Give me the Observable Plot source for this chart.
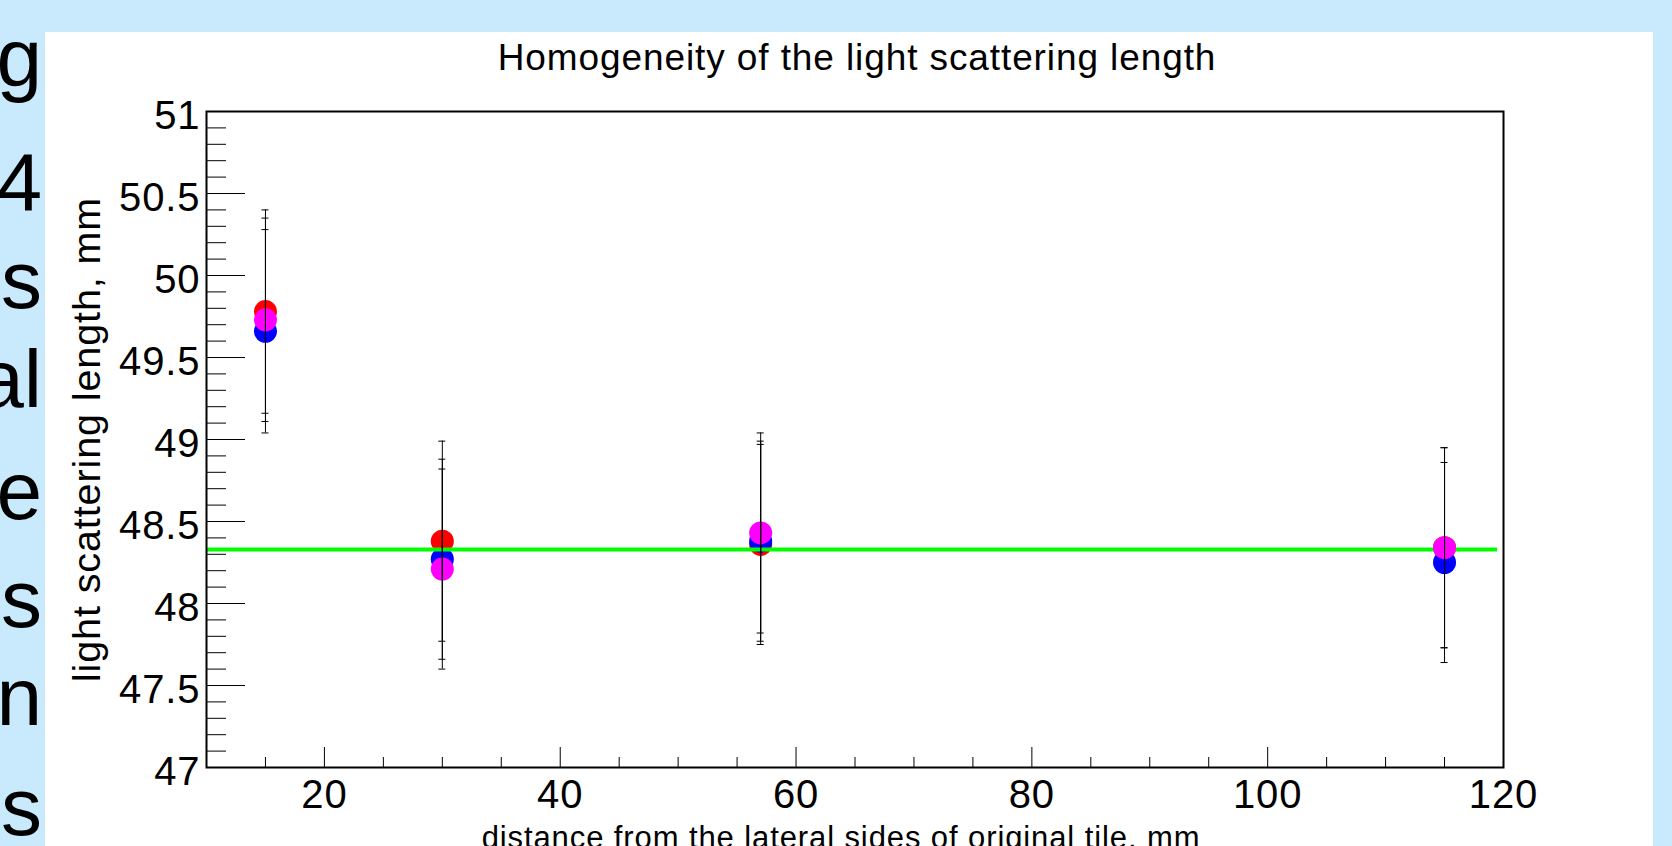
<!DOCTYPE html>
<html>
<head>
<meta charset="utf-8">
<script src="https://cdn.jsdelivr.net/npm/d3@7"></script>
<script src="https://cdn.jsdelivr.net/npm/@observablehq/plot@0.6"></script>
<style>
html, body { margin: 0; padding: 0; }
body { width: 1672px; height: 846px; overflow: hidden; background: #c9eafc; position: relative; font-family: "Liberation Sans", Arial, Helvetica, sans-serif; }
#panel { position: absolute; left: 45px; top: 32px; width: 1608px; height: 900px; background: #ffffff; }
#side { position: absolute; left: 0; top: 0; }
#chart { position: absolute; left: 0; top: 0; }
</style>
</head>
<body>
<div id="panel"></div>
<svg id="side" width="45" height="846"></svg>
<div id="chart"></div>
<script>
// ---- data ----
const titleText = "Homogeneity of the light scattering length";
const xLabelText = "distance from the lateral sides of original tile, mm";
const yLabelText = "light scattering length, mm";

const xPositions = [15, 30, 57, 115];
const redValues = [49.78, 48.38, 48.36, 48.34];
const redErrors = [0.62, 0.61, 0.61, 0.61];
const blueValues = [49.66, 48.27, 48.38, 48.25];
const blueErrors = [0.62, 0.61, 0.61, 0.61];
const magentaValues = [49.73, 48.21, 48.43, 48.34];
const magentaErrors = [0.62, 0.61, 0.61, 0.61];

const fitValue = [48.33];
const fitRange = [10, 119.5];

const xDomain = [10, 120];
const yDomain = [47, 51];
const xTicks = [20, 40, 60, 80, 100, 120];
const xMinorTicks = [15, 25, 30, 35, 45, 50, 55, 65, 70, 75, 85, 90, 95, 105, 110, 115];
const yTicks = [47, 47.5, 48, 48.5, 49, 49.5, 50, 50.5, 51];
const yMinorTicks = [47.1, 47.2, 47.3, 47.4, 47.6, 47.7, 47.8, 47.9,
  48.1, 48.2, 48.3, 48.4, 48.6, 48.7, 48.8, 48.9,
  49.1, 49.2, 49.3, 49.4, 49.6, 49.7, 49.8, 49.9,
  50.1, 50.2, 50.3, 50.4, 50.6, 50.7, 50.8, 50.9];

const sideFragments = ["g", "4", "s", "al", "e", "s", "n", "s"];

// ---- build tables ----
function rows(vals, errs, name) {
  return xPositions.map((x, i) => ({x, y: vals[i], lo: vals[i] - errs[i], hi: vals[i] + errs[i], series: name}));
}
const red = rows(redValues, redErrors, "red");
const blue = rows(blueValues, blueErrors, "blue");
const magenta = rows(magentaValues, magentaErrors, "magenta");
const all = [...red, ...blue, ...magenta];

// ---- layout ----
const W = 1672, H = 846;
const mL = 206, mR = 169, mT = 111, mB = 79;
const frameW = W - mL - mR;
const frameH = H - mT - mB;

const chart = Plot.plot({
  width: W,
  height: H,
  marginLeft: mL,
  marginRight: mR,
  marginTop: mT,
  marginBottom: mB,
  x: {domain: xDomain},
  y: {domain: yDomain},
  style: {
    background: "transparent",
    fontFamily: '"Liberation Sans", Arial, Helvetica, sans-serif',
    fontSize: "40px",
    letterSpacing: "0.9px",
    color: "#000",
    overflow: "visible"
  },
  marks: [
    Plot.tickY(yMinorTicks, {y: d => d, insetRight: frameW - 20, stroke: "#000", strokeWidth: 1}),
    Plot.tickY(yTicks, {y: d => d, insetRight: frameW - 39, stroke: "#000", strokeWidth: 1}),
    Plot.tickX(xMinorTicks, {x: d => d, insetTop: frameH - 10, stroke: "#000", strokeWidth: 1}),
    Plot.tickX(xTicks, {x: d => d, insetTop: frameH - 20, stroke: "#000", strokeWidth: 1}),
    Plot.axisY({ticks: yTicks, tickSize: 0, tickPadding: 6, tickFormat: d => String(d), dy: 5, label: null}),
    Plot.axisX({ticks: xTicks, tickSize: 0, tickPadding: 12, tickFormat: d => String(d), label: null}),
    Plot.dot(red, {x: "x", y: "y", r: 11.5, fill: "#ff0000", stroke: null}),
    Plot.dot(blue, {x: "x", y: "y", r: 11.5, fill: "#0000ff", stroke: null}),
    Plot.ruleY(fitValue, {y: d => d, x1: () => fitRange[0], x2: () => fitRange[1], stroke: "#00ff00", strokeWidth: 4}),
    Plot.dot(magenta, {x: "x", y: "y", r: 11.5, fill: "#ff00ff", stroke: null}),
    Plot.ruleX(all, {x: "x", y1: "lo", y2: "hi", stroke: "#000", strokeWidth: 1}),
    Plot.ruleY(all, {y: "hi", x1: "x", x2: "x", insetLeft: -3.5, insetRight: -3.5, stroke: "#000", strokeWidth: 1}),
    Plot.ruleY(all, {y: "lo", x1: "x", x2: "x", insetLeft: -3.5, insetRight: -3.5, stroke: "#000", strokeWidth: 1}),
    Plot.frame({stroke: "#000", strokeWidth: 2}),
    Plot.text([titleText], {text: d => d, frameAnchor: "top", textAnchor: "middle", lineAnchor: "middle", fontSize: 37, dy: -53, dx: 2}),
    Plot.text([yLabelText], {text: d => d, frameAnchor: "left", textAnchor: "middle", lineAnchor: "middle", rotate: -90, fontSize: 39.5, dx: -119}),
    Plot.text([xLabelText], {text: d => d, frameAnchor: "bottom", textAnchor: "middle", lineAnchor: "middle", fontSize: 31, dy: 71, dx: -14})
  ]
});
document.getElementById("chart").appendChild(chart);

// ---- slide text fragments at the left edge ----
const sideBaselines = [86, 211, 308, 407, 519, 627, 725, 835];
d3.select("#side").selectAll("text")
  .data(sideFragments)
  .join("text")
  .attr("x", 42)
  .attr("y", (d, i) => sideBaselines[i])
  .attr("text-anchor", "end")
  .attr("font-family", '"Liberation Sans", Arial, sans-serif')
  .attr("font-size", 82)
  .attr("fill", "#000")
  .text(d => d);
</script>
</body>
</html>
